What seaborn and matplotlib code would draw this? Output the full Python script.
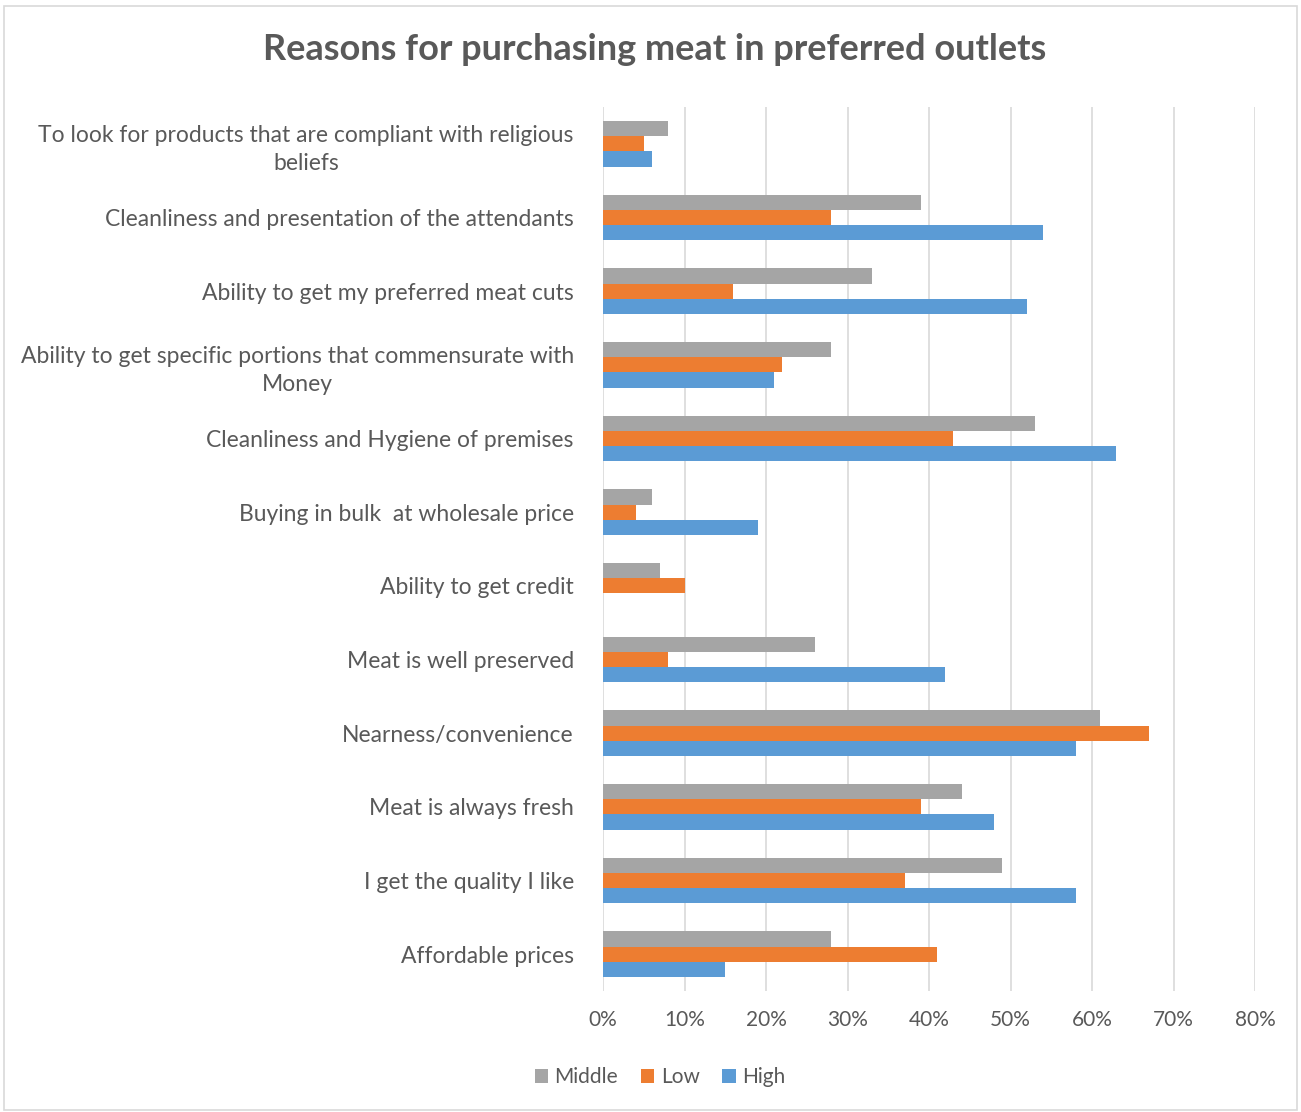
import matplotlib
matplotlib.use("Agg")
import matplotlib.pyplot as plt
from matplotlib.patches import Rectangle
from matplotlib.ticker import FuncFormatter, MultipleLocator
import seaborn as sns
import pandas as pd

# Survey answers: share of respondents per income group
reasons = [
    "To look for products that are compliant with religious\nbeliefs",
    "Cleanliness and presentation of the attendants",
    "Ability to get my preferred meat cuts",
    "Ability to get specific portions that commensurate with\nMoney",
    "Cleanliness and Hygiene of premises",
    "Buying in bulk  at wholesale price",
    "Ability to get credit",
    "Meat is well preserved",
    "Nearness/convenience",
    "Meat is always fresh",
    "I get the quality I like",
    "Affordable prices",
]
middle = [8, 39, 33, 28, 53, 6, 7, 26, 61, 44, 49, 28]
low = [5, 28, 16, 22, 43, 4, 10, 8, 67, 39, 37, 41]
high = [6, 54, 52, 21, 63, 19, 0, 42, 58, 48, 58, 15]
groups = ["Middle", "Low", "High"]
colors = ["#A5A5A5", "#ED7D31", "#5B9BD5"]

rows = []
for g, vals in zip(groups, [middle, low, high]):
    for r, v in zip(reasons, vals):
        rows.append({"Reason": r, "Group": g, "Share": v})
df = pd.DataFrame(rows)

sns.set_theme(style="white")
plt.rcParams["font.family"] = ["Lato", "DejaVu Sans"]
text_col = "#595959"

fig = plt.figure(figsize=(13.01, 11.12), dpi=100)
ax = fig.add_axes([603 / 1301, 1 - 991 / 1112, 652 / 1301, 884 / 1112])

sns.barplot(data=df, x="Share", y="Reason", hue="Group", order=reasons,
            hue_order=groups, palette=colors, width=0.62, saturation=1,
            orient="h", ax=ax, edgecolor="none", legend=True)

ax.set_xlim(0, 80)
ax.xaxis.set_major_locator(MultipleLocator(10))
ax.xaxis.set_major_formatter(FuncFormatter(lambda v, p: f"{int(v)}%"))
ax.grid(axis="x", color="#D9D9D9", linewidth=1.2)
ax.set_axisbelow(True)
for s in ax.spines.values():
    s.set_visible(False)
ax.set_xlabel("")
ax.set_ylabel("")
ax.tick_params(axis="x", length=0, pad=14, labelsize=15, labelcolor=text_col)
ax.tick_params(axis="y", length=0, pad=21, labelsize=16.5, labelcolor=text_col)
for t in ax.get_yticklabels():
    t.set_multialignment("center")
    t.set_linespacing(1.45)

handles, labels = ax.get_legend_handles_labels()
ax.legend_.remove()
fig.legend(handles, labels, loc="center", bbox_to_anchor=(660 / 1301, 1 - 1077 / 1112),
           ncol=3, frameon=False, fontsize=15, labelcolor=text_col,
           handlelength=0.65, handleheight=0.65, handletextpad=0.3, columnspacing=1.1)

fig.text(655 / 1301, 1 - 50 / 1112, "Reasons for purchasing meat in preferred outlets",
         ha="center", va="center", fontsize=26, fontweight="bold", color=text_col)

fig.patches.append(Rectangle((4 / 1301, 2 / 1112), 1293 / 1301, 1104 / 1112,
                             transform=fig.transFigure, fill=False,
                             edgecolor="#D9D9D9", linewidth=1.2))

fig.savefig("out.png", dpi=100, facecolor="white")
